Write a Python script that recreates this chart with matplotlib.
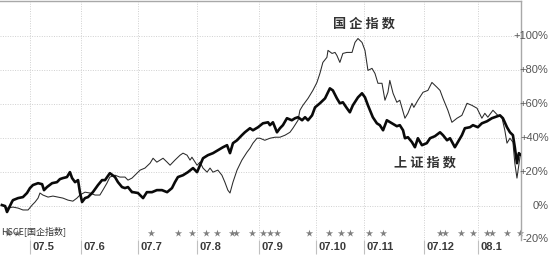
import matplotlib
matplotlib.use("Agg")
import matplotlib.pyplot as plt
import matplotlib.transforms as mtransforms

# ---- data (trading-day index, % change) ----
sse_day = [0.7, 1.9, 2.6, 4.4, 4.8, 6.7, 8.5, 10.0, 11.1, 12.2, 14.1, 15.6, 16.3, 17.4, 19.3, 21.1,
           22.2, 23.3, 24.8, 25.9, 26.7, 27.8, 28.9, 29.6, 30.4, 31.5, 32.6, 34.4, 36.3, 37.8, 38.9,
           40.7, 42.6, 43.7, 45.2, 46.3, 47.4, 48.9, 49.3, 51.1, 53.0, 54.4, 56.3, 58.1, 60.0, 61.9,
           63.7, 64.8, 65.9, 67.8, 69.6, 71.5, 73.0, 74.1, 75.2, 77.0, 78.9, 80.7, 82.6, 84.1, 85.2,
           86.3, 87.8, 89.6, 90.7, 92.6, 93.7, 95.6, 97.4, 99.3, 100.0, 101.1, 102.6, 103.7, 104.8,
           106.3, 108.1, 109.3, 110.4, 111.9, 113.0, 114.1, 115.6, 116.7, 118.5, 120.4, 122.2, 123.3,
           124.8, 125.9, 127.0, 128.5, 129.6, 130.7, 132.6, 134.1, 135.2, 136.3, 138.1, 139.6, 140.7,
           141.9, 143.3, 145.2, 147.0, 148.1, 149.3, 150.0, 151.1, 152.6, 153.7, 154.8, 156.3, 158.1,
           159.3, 161.1, 163.0, 164.1, 165.6, 166.7, 168.5, 169.6, 171.1, 172.2, 174.1, 175.2, 177.0,
           178.5, 180.4, 182.2, 184.1, 185.2, 186.3, 187.8, 188.9, 190.0, 190.7, 191.5, 192.2, 193.0]
sse_pct = [0.3, -0.3, -3.8, 2.1, 3.2, 4.4, 5.0, 7.4, 10.3, 12.1, 13.2, 12.6, 9.1, 10.9, 13.2, 13.8,
           15.6, 16.2, 16.8, 19.7, 16.2, 13.8, 15.0, 7.9, 2.1, 4.4, 5.0, 7.9, 12.1, 15.0, 15.0,
           19.1, 16.8, 13.8, 10.9, 10.3, 10.9, 7.9, 7.9, 7.4, 4.4, 7.9, 7.9, 9.1, 9.1, 7.9,
           10.3, 13.8, 16.8, 17.9, 19.7, 22.1, 19.7, 23.8, 27.9, 29.7, 30.9, 32.6, 34.4, 35.6, 30.9,
           36.8, 38.5, 41.5, 43.2, 45.6, 44.4, 46.2, 48.5, 49.1, 47.4, 49.1, 43.2, 45.6, 47.4,
           51.5, 50.3, 51.5, 52.1, 50.3, 52.1, 50.3, 53.2, 57.9, 60.3, 63.2, 69.1, 67.9,
           63.2, 60.3, 60.9, 57.4, 55.0, 59.1, 63.8, 66.2, 63.8, 59.1, 52.1, 48.5, 47.4,
           44.4, 50.3, 48.5, 46.8, 47.4, 44.4, 39.7, 40.3, 37.4, 34.4, 39.7, 35.6, 36.8,
           39.7, 40.9, 43.2, 41.5, 38.5, 39.7, 34.4, 37.4, 41.5, 45.6, 46.2, 47.4, 46.2,
           48.5, 49.7, 51.5, 52.6, 53.2, 51.5, 46.2, 43.2, 41.5, 34.4, 25.0, 30.9, 29.7]

hsce_day = [0.7, 2.6, 4.8, 6.7, 8.5, 10.4, 11.9, 13.0, 14.1, 14.8, 15.9, 17.8, 19.6, 21.5, 23.3, 25.2,
            27.0, 28.5, 29.6, 31.5, 33.3, 35.2, 37.0, 38.1, 39.6, 40.7, 42.6, 44.4, 46.3, 47.4, 48.9,
            50.0, 51.9, 53.7, 55.6, 56.7, 58.1, 59.3, 60.4, 61.9, 63.0, 64.8, 66.7, 67.8, 69.3, 70.4,
            71.1, 73.0, 74.1, 75.2, 76.7, 77.8, 78.9, 80.7, 82.2, 83.3, 84.4, 85.2, 86.3, 87.8, 89.6,
            91.5, 92.6, 93.7, 95.2, 96.3, 98.1, 100.0, 101.9, 103.7, 105.6, 107.4, 108.5, 110.4, 111.1,
            112.2, 114.1, 115.9, 117.4, 118.5, 119.6, 121.1, 121.5, 123.0, 124.1, 124.8, 125.9, 127.0,
            128.5, 130.4, 131.5, 132.6, 134.1, 135.2, 136.3, 137.8, 138.9, 140.0, 141.5, 142.6, 143.7,
            144.4, 145.6, 147.0, 148.1, 150.0, 151.1, 152.6, 153.3, 154.8, 156.7, 158.5, 160.0, 161.9,
            163.0, 164.1, 165.9, 167.4, 169.3, 171.1, 173.0, 174.8, 176.7, 178.5, 179.6, 180.7, 182.6,
            184.4, 185.9, 187.0, 187.8, 188.9, 190.0, 190.7, 191.5, 192.6]
hsce_pct = [0.3, -1.5, -0.9, -1.5, -2.6, -2.6, 0.3, 2.1, 4.4, 7.4, 6.2, 5.0, 5.6, 5.0, 4.4, 3.2,
            2.6, 4.4, 6.2, 7.9, 7.4, 6.2, 6.2, 9.1, 13.2, 16.8, 17.9, 16.8, 16.8, 15.0, 16.2,
            17.9, 20.9, 22.1, 25.0, 27.9, 25.6, 26.8, 27.9, 25.6, 23.8, 26.8, 29.7, 30.9, 29.7, 26.8,
            28.5, 23.8, 25.6, 22.1, 19.7, 22.1, 19.7, 20.9, 17.9, 13.8, 9.1, 7.4, 13.8, 20.9, 26.8,
            31.5, 33.8, 36.8, 39.7, 39.7, 38.5, 39.7, 40.3, 40.3, 41.5, 43.2, 45.6, 50.3, 56.2,
            59.1, 63.2, 67.9, 72.6, 77.9, 84.4, 87.4, 91.5, 89.7, 90.3, 88.5, 84.4, 89.7,
            90.3, 90.3, 96.2, 98.5, 96.2, 91.5, 79.7, 80.9, 77.9, 72.1, 72.1, 62.1, 66.8,
            73.8, 66.2, 60.9, 62.1, 51.5, 54.4, 60.3, 57.9, 62.1, 66.8, 67.9, 72.6, 69.7,
            67.9, 63.2, 56.2, 49.1, 51.5, 53.2, 60.3, 59.1, 57.4, 51.5, 54.4, 52.1, 56.2,
            53.2, 52.1, 44.4, 36.8, 39.7, 37.4, 25.0, 16.2, 28.5]

month_day = [11, 30, 51, 73, 96, 117, 135, 157, 177]
month_labels = ["07.5", "07.6", "07.7", "07.8", "07.9", "07.10", "07.11", "07.12", "08.1"]
star_day = [3.0, 6.3, 55.9, 65.9, 71.1, 76.3, 80.4, 85.9, 87.4, 93.3, 97.4, 100.0, 102.6,
            114.4, 121.9, 126.3, 129.6, 136.7, 141.9, 163.0, 164.8, 170.7, 175.2, 180.4,
            182.2, 187.8, 192.6]
y_ticks = [100, 80, 60, 40, 20, 0, -20]
y_labels = ["+100%", "+80%", "+60%", "+40%", "+20%", "0%", "-20%"]

# ---- figure ----
fig = plt.figure(figsize=(5.5, 2.61), dpi=100)
ax = fig.add_axes([0.0, 0.0805, 0.9473, 0.9175])
ax.set_xlim(0, 193)
ax.set_ylim(-20.3, 120.9)

for v in y_ticks[:-1]:
    ax.axhline(v, color="#d0d0d0", lw=0.7, ls=(0, (1, 1.5)), zorder=0)
for d in month_day:
    ax.axvline(d, color="#d0d0d0", lw=0.7, ls=(0, (1, 1.5)), zorder=0)

ax.plot(hsce_day, hsce_pct, color="#2a2a2a", lw=0.75, zorder=3)
ax.plot(sse_day, sse_pct, color="#0a0a0a", lw=1.9, zorder=4)

trans = mtransforms.blended_transform_factory(ax.transData, ax.transAxes)
ax.scatter(star_day, [0.03] * len(star_day), transform=trans, marker="*", s=30,
           color="#808080", linewidths=0, zorder=2, clip_on=False)

for sp in ["left", "bottom"]:
    ax.spines[sp].set_visible(False)
for sp in ["top", "right"]:
    ax.spines[sp].set_color("#a8a8a8")
    ax.spines[sp].set_linewidth(1.0)

ax.set_xticks(month_day)
ax.set_xticklabels([])
ax.tick_params(axis="x", direction="out", length=10, width=0.8, color="#c0c0c0")
ax.set_yticks([])

narrow = ["Liberation Sans Narrow", "Liberation Sans", "DejaVu Sans"]
for d, lab in zip(month_day, month_labels):
    ax.text(d + 0.9, -0.03, lab, transform=trans, ha="left", va="center",
            fontsize=8, fontweight="bold", color="#3a3a3a", family=narrow, clip_on=False)
for v, lab in zip(y_ticks, y_labels):
    ax.text(1.053, v, lab, transform=mtransforms.blended_transform_factory(ax.transAxes, ax.transData),
            ha="right", va="center", fontsize=8, color="#555555", family=narrow, clip_on=False)

cjk = ["Noto Sans CJK SC", "DejaVu Sans"]
ax.text(135.0, 107.0, "国 企 指 数", ha="center", va="center", fontsize=9.5, color="#333333",
        family=cjk, fontweight="bold")
ax.text(157.4, 25.5, "上 证 指 数", ha="center", va="center", fontsize=9.5, color="#333333",
        family=cjk, fontweight="bold")
ax.text(0.4, 0.035, "HSCE[国企指数]", transform=trans, ha="left", va="center", fontsize=6.5,
        color="#333333", family=cjk)

fig.savefig("out.png", dpi=100)
